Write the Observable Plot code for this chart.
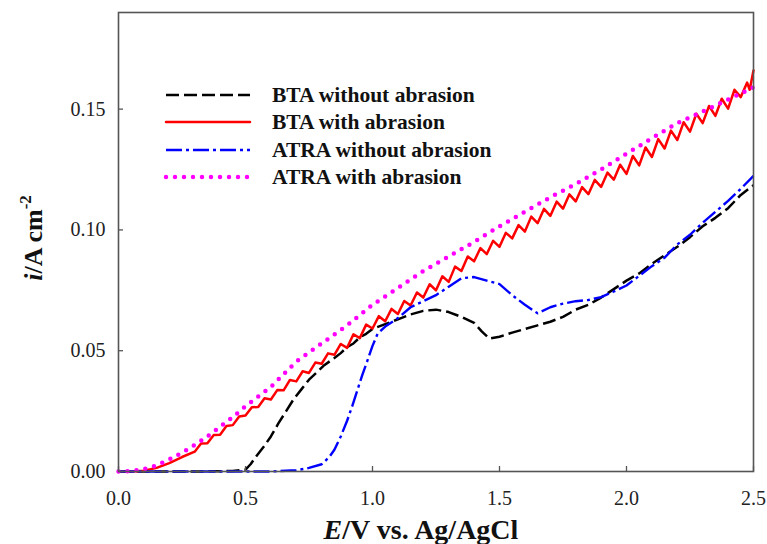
<!DOCTYPE html>
<html>
<head>
<meta charset="utf-8">
<script src="https://cdn.jsdelivr.net/npm/d3@7"></script>
<script src="https://cdn.jsdelivr.net/npm/@observablehq/plot@0.6"></script>
<style>
  html, body { margin: 0; padding: 0; background: #fff; }
  #chart svg { display: block; }
</style>
</head>
<body>
<div id="chart"></div>
<script>
// ---- data (E / V, i / A cm^-2) ----
const xTicks = [0, 0.5, 1.0, 1.5, 2.0, 2.5];
const yTicks = [0, 0.05, 0.10, 0.15];

const seriesNames = ["BTA without abrasion", "BTA with abrasion", "ATRA without abrasion", "ATRA with abrasion"];

const btaWithout = [
  [0,0],[0.3,0],[0.45,0.0002],[0.5,0.0008],[0.52,0.003],[0.54,0.006],[0.57,0.010],[0.6,0.0145],
  [0.63,0.020],[0.66,0.025],[0.69,0.030],[0.72,0.034],[0.75,0.038],[0.78,0.041],[0.81,0.044],
  [0.85,0.047],[0.875,0.049],[0.9,0.0515],[0.925,0.053],[0.95,0.0555],[0.975,0.057],[1.0,0.059],
  [1.05,0.061],[1.1,0.063],[1.15,0.065],[1.2,0.0665],[1.25,0.067],[1.3,0.066],[1.35,0.064],
  [1.4,0.0615],[1.43,0.058],[1.46,0.055],[1.5,0.0558],[1.55,0.0575],[1.6,0.059],[1.65,0.0605],
  [1.7,0.062],[1.75,0.064],[1.8,0.067],[1.85,0.069],[1.9,0.072],[1.95,0.0755],[2.0,0.079],
  [2.05,0.082],[2.1,0.086],[2.15,0.0895],[2.2,0.093],[2.25,0.097],[2.3,0.1015],[2.35,0.105],
  [2.4,0.109],[2.45,0.1145],[2.5,0.1185]
];

const btaWith = [
  [0,0],[0.05,0],[0.1,0.0003],[0.15,0.0015],[0.2,0.0035],[0.25,0.006],
  [0.3,0.0082],[0.325,0.0116],[0.35,0.0117],[0.375,0.0151],[0.4,0.0152],[0.425,0.0188],
  [0.45,0.0192],[0.475,0.0228],[0.5,0.0232],[0.525,0.0266],[0.55,0.0267],[0.575,0.0303],
  [0.6,0.0298],[0.625,0.0337],[0.65,0.0336],[0.675,0.0379],[0.7,0.0373],[0.725,0.0415],
  [0.75,0.0408],[0.775,0.0451],[0.8,0.0446],[0.825,0.0489],[0.85,0.0483],[0.875,0.0528],
  [0.9,0.0512],[0.925,0.0568],[0.95,0.0552],[0.975,0.0608],[1.0,0.0592],[1.025,0.0643],
  [1.05,0.0622],[1.075,0.0673],[1.1,0.0652],[1.125,0.0706],[1.15,0.0687],[1.175,0.0741],
  [1.2,0.072],[1.225,0.0775],[1.25,0.075],[1.275,0.0808],[1.3,0.0785],[1.325,0.0848],
  [1.35,0.083],[1.375,0.089],[1.4,0.087],[1.425,0.0925],[1.45,0.090],[1.475,0.0955],
  [1.5,0.093],[1.525,0.0988],[1.55,0.0965],[1.575,0.102],[1.6,0.0993],[1.625,0.1055],
  [1.65,0.1028],[1.675,0.1087],[1.7,0.1058],[1.725,0.1117],[1.75,0.1088],[1.775,0.1147],
  [1.8,0.1118],[1.825,0.1177],[1.85,0.1148],[1.875,0.1207],[1.9,0.1178],[1.925,0.1237],
  [1.95,0.1208],[1.975,0.127],[2.0,0.1232],[2.025,0.1306],[2.05,0.1267],[2.075,0.1341],
  [2.1,0.1302],[2.125,0.1376],[2.15,0.1337],[2.175,0.1411],[2.2,0.1372],[2.225,0.1446],
  [2.25,0.1407],[2.275,0.1481],[2.3,0.1442],[2.325,0.1513],[2.35,0.1472],[2.375,0.1543],
  [2.4,0.1502],[2.425,0.158],[2.45,0.155],[2.475,0.161],[2.485,0.158],[2.5,0.166]
];

const atraWithout = [
  [0,0],[0.6,0],[0.7,0.0005],[0.75,0.0015],[0.8,0.003],[0.83,0.006],[0.85,0.009],[0.875,0.0145],
  [0.9,0.021],[0.92,0.027],[0.94,0.0335],[0.96,0.040],[0.98,0.0459],[1.0,0.052],[1.02,0.057],
  [1.05,0.060],[1.1,0.0635],[1.15,0.068],[1.2,0.0705],[1.25,0.073],[1.3,0.0765],[1.35,0.080],
  [1.4,0.0805],[1.45,0.079],[1.5,0.0776],[1.55,0.073],[1.6,0.069],[1.65,0.0655],[1.7,0.068],
  [1.75,0.0695],[1.8,0.0705],[1.85,0.071],[1.9,0.0722],[1.95,0.0745],[2.0,0.077],[2.05,0.081],
  [2.1,0.085],[2.15,0.0885],[2.2,0.094],[2.25,0.098],[2.3,0.103],[2.35,0.1075],[2.4,0.112],
  [2.45,0.117],[2.5,0.1224]
];

const atraWith = [
  [0,0],[0.05,0.0002],[0.1,0.001],[0.15,0.0025],[0.2,0.005],[0.25,0.0078],[0.3,0.011],
  [0.35,0.0145],[0.4,0.0185],[0.45,0.0225],[0.5,0.027],[0.55,0.031],[0.6,0.035],[0.7,0.0455],
  [0.8,0.053],[0.9,0.0605],[1.0,0.069],[1.1,0.076],[1.2,0.083],[1.3,0.089],[1.4,0.095],
  [1.5,0.1015],[1.6,0.1075],[1.7,0.1135],[1.8,0.119],[1.9,0.125],[2.0,0.1315],[2.1,0.138],
  [2.2,0.1442],[2.3,0.149],[2.4,0.154],[2.5,0.159]
];

// ---- styles ----
const styles = [
  {stroke: "#000000", strokeWidth: 2.5, strokeDasharray: "13,5", strokeLinecap: "butt"},
  {stroke: "#ff0000", strokeWidth: 2.5, strokeDasharray: null, strokeLinecap: "round"},
  {stroke: "#0000ff", strokeWidth: 2.4, strokeDasharray: "16,4,3,4", strokeLinecap: "butt"},
  {stroke: "#ff00ff", strokeWidth: 4.5, strokeDasharray: "0,9", strokeLinecap: "round"}
];
const allSeries = [btaWithout, btaWith, atraWithout, atraWith];

const serif = "Liberation Serif, Times New Roman, serif";

const chart = Plot.plot({
  width: 767,
  height: 544,
  marginLeft: 118,
  marginRight: 14,
  marginTop: 12,
  marginBottom: 73,
  x: {domain: [0, 2.5]},
  y: {domain: [0, 0.19]},
  style: {fontFamily: serif, background: "#fff", color: "#222"},
  marks: [
    ...allSeries.map((s, i) => Plot.line(s, {
      x: d => d[0], y: d => d[1],
      stroke: styles[i].stroke,
      strokeWidth: styles[i].strokeWidth,
      strokeDasharray: styles[i].strokeDasharray,
      strokeLinecap: styles[i].strokeLinecap,
      strokeLinejoin: "round",
      curve: "linear"
    })),
    Plot.frame({stroke: "#555", strokeWidth: 1.6}),
    Plot.axisX({ticks: xTicks, tickSize: -5, text: null, label: null, stroke: "#555", strokeWidth: 1.3}),
    Plot.axisY({ticks: yTicks, tickSize: -5, text: null, label: null, stroke: "#555", strokeWidth: 1.3}),
    Plot.axisX({ticks: xTicks, tickSize: 0, tickPadding: 19, label: null, fontSize: 20,
      tickFormat: d => d.toFixed(1), fill: "#222"}),
    Plot.axisY({ticks: yTicks, tickSize: 0, tickPadding: 13, label: null, fontSize: 20,
      tickFormat: d => d.toFixed(2), fill: "#222"})
  ]
});

document.getElementById("chart").appendChild(chart);

const svg = d3.select(chart);
// force serif tick labels
svg.selectAll("g[aria-label$='tick label']").style("font-family", serif);
svg.selectAll("text").style("font-family", serif);

// x title
const xt = svg.append("text")
  .attr("x", 421).attr("y", 539)
  .attr("text-anchor", "middle")
  .style("font-family", serif)
  .style("font-weight", "bold")
  .style("font-size", "28px")
  .attr("fill", "#111");
xt.append("tspan").style("font-style", "italic").text("E");
xt.append("tspan").text("/V vs. Ag/AgCl");

// y title
const yt = svg.append("text")
  .attr("transform", "translate(42,238) rotate(-90)")
  .attr("text-anchor", "middle")
  .style("font-family", serif)
  .style("font-weight", "bold")
  .style("font-size", "26px")
  .attr("fill", "#111");
yt.append("tspan").style("font-style", "italic").text("i");
yt.append("tspan").text("/A cm");
yt.append("tspan").style("font-size", "17px").attr("dy", -11).text("-2");

// legend
const legendY = [95, 122, 150, 177];
const lg = svg.append("g");
seriesNames.forEach((name, i) => {
  lg.append("line")
    .attr("x1", 166).attr("x2", 250)
    .attr("y1", legendY[i]).attr("y2", legendY[i])
    .attr("stroke", styles[i].stroke)
    .attr("stroke-width", styles[i].strokeWidth)
    .attr("stroke-dasharray", styles[i].strokeDasharray)
    .attr("stroke-linecap", styles[i].strokeLinecap);
  lg.append("text")
    .attr("x", 272).attr("y", legendY[i] + 7)
    .attr("text-anchor", "start")
    .style("font-family", serif)
    .style("font-weight", "bold")
    .style("font-size", "21.5px")
    .attr("fill", "#111")
    .text(name);
});
</script>
</body>
</html>
